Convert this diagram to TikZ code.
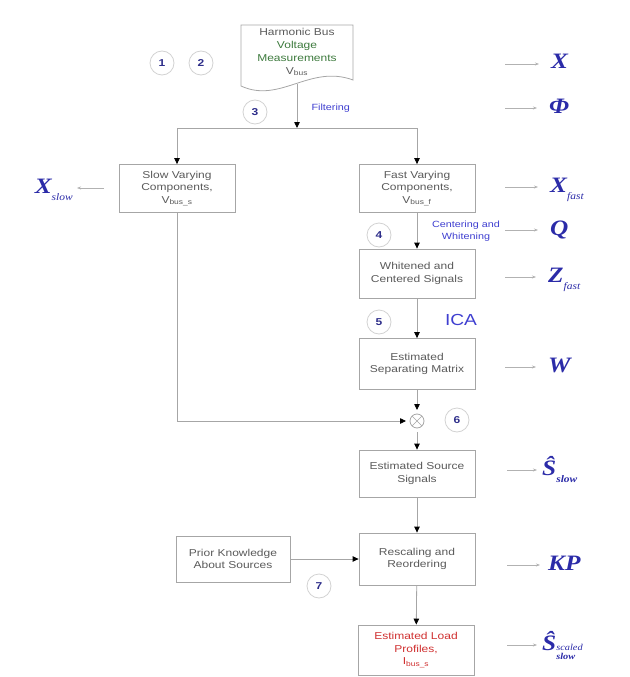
\documentclass[tikz,border=0pt]{standalone}
\usepackage{fontspec}
\setmainfont{Liberation Sans}[FakeStretch=1.2]
\newfontfamily\symfont{Liberation Serif}[FakeStretch=1.15]
\usetikzlibrary{arrows.meta}

\definecolor{boxgray}{HTML}{A6A6A6}
\definecolor{textgray}{HTML}{5A5A5A}
\definecolor{measgreen}{HTML}{3D7A3D}
\definecolor{stepblue}{HTML}{3F3FD0}
\definecolor{symblue}{HTML}{2B2BA8}
\definecolor{numblue}{HTML}{2E2E8A}
\definecolor{loadred}{HTML}{D03030}

\newcommand{\symsub}[1]{\raisebox{-0.3em}{\fontsize{10}{10}\selectfont\mdseries#1}}
\newcommand{\symsubbf}[1]{\raisebox{-0.3em}{\fontsize{10}{10}\selectfont#1}}
\newcommand{\symsubsup}[2]{\raisebox{-0.4em}{\fontsize{9}{10}\selectfont\shortstack[l]{\mdseries#1\\#2}}}

\tikzset{
  procbox/.style={draw=boxgray, line width=0.8pt, fill=white, text=textgray, align=center,
    minimum width=116pt, minimum height=48pt, inner sep=2pt, font=\fontsize{10}{12.5}\selectfont},
  link/.style={draw=boxgray, line width=0.8pt},
  flow/.style={link, -{Triangle[length=6pt,width=5.5pt,color=black]}},
  symarrow/.style={draw=gray!60, line width=0.6pt, -{Stealth[length=4pt,width=3pt]}},
  sym/.style={text=symblue, anchor=mid west, inner sep=0pt, font=\symfont\bfseries\itshape\fontsize{22}{22}\selectfont},
  stepnum/.style={circle, draw=gray!35, line width=0.8pt, minimum size=24pt, inner sep=0pt,
    text=numblue, font=\bfseries\fontsize{10}{10}\selectfont},
  steptext/.style={text=stepblue, align=center, font=\fontsize{9}{12}\selectfont},
}

\begin{document}
\begin{tikzpicture}[x=1pt,y=-1pt]
  \useasboundingbox (0,0) rectangle (629,677);

  % measurements (document shape)
  \draw[link] (241,86) -- (241,25) -- (353,25) -- (353,80)
    .. controls (310,64) and (280,104) .. (241,86) -- cycle;
  \node[align=center, text=textgray, font=\fontsize{10}{13}\selectfont] (meas) at (297,52)
    {Harmonic Bus\\\textcolor{measgreen}{Voltage}\\\textcolor{measgreen}{Measurements}\\V\textsubscript{bus}};
  \coordinate (measout) at (297,84);
  \coordinate (split) at (297,128);

  % process boxes
  \node[procbox] (slow) at (177,188.5) {Slow Varying\\Components,\\V\textsubscript{bus\_s}};
  \node[procbox] (fast) at (417,188.5) {Fast Varying\\Components,\\V\textsubscript{bus\_f}};
  \node[procbox, minimum height=49pt] (white) at (417,273.5) {Whitened and\\Centered Signals};
  \node[procbox, minimum height=51pt] (sep) at (417,364) {Estimated\\Separating Matrix};
  \node[circle, draw=boxgray, line width=0.8pt, minimum size=14pt, inner sep=0pt, outer sep=4pt,
    path picture={\draw[boxgray, line width=0.6pt]
      (path picture bounding box.north west) -- (path picture bounding box.south east)
      (path picture bounding box.north east) -- (path picture bounding box.south west);}]
    (mult) at (417,421) {};
  \node[procbox, minimum height=47pt] (src) at (417,473.5) {Estimated Source\\Signals};
  \node[procbox, minimum height=52pt] (resc) at (417,559) {Rescaling and\\Reordering};
  \node[procbox, minimum width=114pt, minimum height=46pt] (prior) at (233,559) {Prior Knowledge\\About Sources};
  \node[procbox, text=loadred, minimum height=50pt] (load) at (416,650) {Estimated Load\\Profiles,\\I\textsubscript{bus\_s}};

  % connectors
  \draw[flow] (measout) -- (split);
  \draw[flow] (split) -| (slow);
  \draw[flow] (split) -| (fast);
  \draw[flow] (fast) -- (white);
  \draw[flow] (white) -- (sep);
  \draw[flow] (sep) -- (mult);
  \draw[flow] (slow) |- (mult);
  \draw[flow] (mult) -- (src);
  \draw[flow] (src) -- (resc);
  \draw[flow] (prior) -- (resc);
  \draw[flow] (resc) -- (load);

  % step numbers
  \node[stepnum] (n1) at (162,63) {1};
  \node[stepnum] (n2) at (201,63) {2};
  \node[stepnum] (n3) at (255,112) {3};
  \node[stepnum] (n4) at (379,235) {4};
  \node[stepnum] (n5) at (379,322) {5};
  \node[stepnum] (n6) at (457,420) {6};
  \node[stepnum] (n7) at (319,586) {7};

  % step labels
  \node[steptext, anchor=west] (filt) at (308,108) {Filtering};
  \node[steptext] (cw) at (466,231) {Centering and\\Whitening};
  \node[text=stepblue, font=\fontsize{16}{16}\selectfont] (ica) at (461,320) {ICA};

  % symbols
  \node[sym] (symx) at (551,66) {X};
  \node[sym] (symphi) at (549,111) {Φ};
  \node[sym] (symxf) at (550,190) {X\symsub{fast}};
  \node[sym] (symq) at (550,233) {Q};
  \node[sym] (symzf) at (548,280) {Z\symsub{fast}};
  \node[sym] (symw) at (548,370) {W};
  \node[sym] (symss) at (542,473) {Ŝ\symsubbf{slow}};
  \node[sym] (symkp) at (548,568) {KP};
  \node[sym] (symsc) at (542,648) {Ŝ\symsubsup{scaled}{slow}};
  \node[sym, anchor=mid east] (symxs) at (73,191) {X\symsub{slow}};

  \coordinate (ax) at (505,64);
  \coordinate (aphi) at (505,108);
  \coordinate (axf) at (505,187);
  \coordinate (aq) at (505,230);
  \coordinate (azf) at (505,277);
  \coordinate (aw) at (505,367);
  \coordinate (ass) at (507,470);
  \coordinate (akp) at (507,565);
  \coordinate (asc) at (507,645);
  \coordinate (axs) at (104,188);

  \draw[symarrow, shorten >=12pt] (ax) -- (ax -| symx.west);
  \draw[symarrow, shorten >=12pt] (aphi) -- (aphi -| symphi.west);
  \draw[symarrow, shorten >=12pt] (axf) -- (axf -| symxf.west);
  \draw[symarrow, shorten >=12pt] (aq) -- (aq -| symq.west);
  \draw[symarrow, shorten >=12pt] (azf) -- (azf -| symzf.west);
  \draw[symarrow, shorten >=12pt] (aw) -- (aw -| symw.west);
  \draw[symarrow, shorten >=5pt] (ass) -- (ass -| symss.west);
  \draw[symarrow, shorten >=8pt] (akp) -- (akp -| symkp.west);
  \draw[symarrow, shorten >=5pt] (asc) -- (asc -| symsc.west);
  \draw[symarrow, shorten >=4pt] (axs) -- (axs -| symxs.east);
\end{tikzpicture}
\end{document}
